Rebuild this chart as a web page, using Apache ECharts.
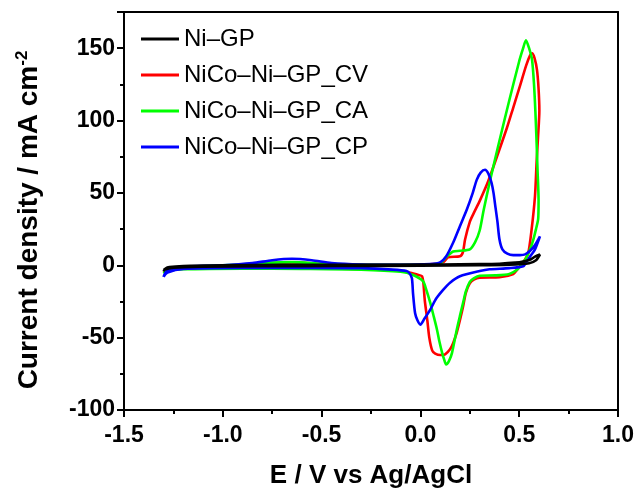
<!DOCTYPE html>
<html>
<head>
<meta charset="utf-8">
<script src="https://cdn.jsdelivr.net/npm/echarts@6/dist/echarts.min.js"></script>
<style>html,body{margin:0;padding:0;background:#fff}#c{width:636px;height:490px}</style>
</head>
<body>
<div id="c"></div>
<script>
// Series names
const seriesNames = ['Ni\u2013GP', 'NiCo\u2013Ni\u2013GP_CV', 'NiCo\u2013Ni\u2013GP_CA', 'NiCo\u2013Ni\u2013GP_CP'];
const seriesColors = ['#000000', '#ff0000', '#00ff00', '#0000ff'];

// tick values
const xTicks = [-1.5, -1.0, -0.5, 0.0, 0.5, 1.0];
const yTicks = [-100, -50, 0, 50, 100, 150];

// [E (V), j (mA cm^-2)] — loop scans
const niGP = [[-1.30,-4.0],[-1.29,-2.2],[-1.27,-1.2],[-1.2,-0.5],[-1.0,0.0],[-0.7,0.3],[-0.4,0.3],[-0.1,0.4],[0.1,0.5],[0.3,0.8],[0.4,1.1],[0.48,1.8],[0.52,2.6],[0.56,4.2],[0.58,6.0],[0.605,7.4],[0.585,3.5],[0.55,1.4],[0.45,0.4],[0.3,0.0],[0.0,-0.3],[-0.4,-0.5],[-0.8,-0.7],[-1.1,-1.0],[-1.25,-1.6],[-1.3,-3.0]];

const niCoCV = [[-1.3,-5],[-1.28,-2.5],[-1.25,-1.5],[-1.1,-0.5],[-0.9,0.3],[-0.75,1.5],[-0.65,2.0],[-0.5,1.0],[-0.3,0.3],[0.0,0.4],[0.08,1],[0.12,2.5],[0.14,5.5],[0.2,6.2],[0.215,9],[0.226,17.8],[0.25,30],[0.27,36],[0.302,45],[0.343,58],[0.4,80],[0.438,95],[0.47,109],[0.504,124],[0.535,138],[0.555,145],[0.565,146.5],[0.578,143],[0.59,135],[0.598,122],[0.602,107],[0.595,88],[0.588,71],[0.58,48],[0.563,25],[0.545,8],[0.52,2],[0.49,-3],[0.47,-6],[0.4,-8.3],[0.3,-8.6],[0.27,-10],[0.25,-12.5],[0.23,-19],[0.216,-28.5],[0.2,-38],[0.184,-46.5],[0.165,-54],[0.15,-58],[0.125,-61.5],[0.1,-62],[0.075,-61],[0.06,-59],[0.045,-50],[0.035,-38],[0.022,-24],[0.015,-12],[0.008,-7.5],[-0.01,-6.7],[-0.05,-5.2],[-0.1,-4],[-0.2,-3],[-0.4,-2.3],[-0.7,-2],[-1.0,-2],[-1.2,-2.3],[-1.28,-3.5],[-1.3,-5]];

const niCoCA = [[-1.3,-5.5],[-1.28,-3],[-1.25,-1.5],[-1.1,-0.5],[-0.9,0.5],[-0.75,1.8],[-0.65,2.2],[-0.5,1.2],[-0.3,0.4],[0.0,0.4],[0.1,1.5],[0.133,6],[0.166,9.5],[0.2,10],[0.25,11],[0.277,16],[0.3,24],[0.32,38],[0.35,57],[0.4,86],[0.45,114],[0.5,141],[0.52,150],[0.534,155.5],[0.55,150],[0.565,142],[0.575,125],[0.582,106],[0.588,85],[0.593,65],[0.598,45],[0.596,32],[0.585,25],[0.57,17],[0.555,11],[0.535,5],[0.52,2],[0.49,-3],[0.45,-6],[0.38,-7],[0.3,-7.2],[0.27,-9],[0.25,-11.5],[0.23,-18],[0.216,-26],[0.2,-35],[0.184,-44.5],[0.16,-60.5],[0.145,-66],[0.13,-68.5],[0.12,-65],[0.11,-60.5],[0.095,-52],[0.084,-44.5],[0.065,-34],[0.05,-26],[0.03,-17],[0.013,-11],[-0.037,-6.7],[-0.1,-4.5],[-0.3,-3],[-0.6,-2.5],[-0.9,-2.3],[-1.2,-2.8],[-1.28,-4],[-1.3,-5.5]];

const niCoCP = [[-1.3,-8],[-1.29,-5],[-1.27,-2.5],[-1.2,-1],[-1.0,0],[-0.85,1.5],[-0.75,3.5],[-0.65,4.5],[-0.55,3.5],[-0.45,1.5],[-0.3,0.5],[-0.1,0.3],[0.05,0.8],[0.1,2],[0.13,6],[0.166,15.7],[0.2,27],[0.235,38.5],[0.265,50],[0.285,59],[0.305,64],[0.327,66],[0.345,63],[0.36,57],[0.37,50],[0.38,40],[0.39,30],[0.4,18],[0.415,11],[0.44,8],[0.47,7],[0.504,7],[0.53,7.5],[0.555,10],[0.58,14],[0.605,20],[0.58,11],[0.555,6],[0.535,2],[0.52,-0.7],[0.45,-2],[0.35,-2.8],[0.3,-4],[0.2,-7.6],[0.15,-12],[0.116,-16.8],[0.08,-23],[0.05,-30.6],[0.02,-37],[0.0,-41],[-0.015,-38],[-0.027,-33],[-0.037,-20],[-0.043,-9],[-0.055,-5.5],[-0.07,-4],[-0.14,-3],[-0.3,-2],[-0.6,-1.8],[-0.9,-1.8],[-1.2,-2.5],[-1.28,-5],[-1.3,-8]];

const seriesData = [niGP, niCoCV, niCoCA, niCoCP];

const xTitle = 'E / V vs Ag/AgCl';
const yTitle = 'Current density / mA cm{sup|-2}';

const chart = echarts.init(document.getElementById('c'), null, {renderer: 'canvas'});
const FONT = 'Liberation Sans, Arial, sans-serif';
const labelFont = {fontFamily: FONT, fontWeight: 'bold', fontSize: 23, color: '#000'};

const drawOrder = [1, 2, 3, 0];
const series = drawOrder.map(i => ({
  name: seriesNames[i],
  type: 'line',
  data: seriesData[i],
  showSymbol: false,
  symbol: 'none',
  smooth: 0.25,
  lineStyle: {color: seriesColors[i], width: 2.6},
  itemStyle: {color: seriesColors[i]},
  animation: false,
  z: 2
}));

const axisLine = {show: true, onZero: false, lineStyle: {color: '#000', width: 2}};
chart.setOption({
  animation: false,
  backgroundColor: '#fff',
  grid: {left: 124, right: 18, top: 12, bottom: 80, outerBoundsMode: 'none'},
  legend: {
    orient: 'vertical', left: 136, top: 22,
    data: seriesNames.map((n, i) => ({name: n, icon: 'rect', itemStyle: {color: seriesColors[i]}})),
    itemWidth: 38, itemHeight: 3, itemGap: 12,
    textStyle: {fontFamily: FONT, fontSize: 24, color: '#000'}
  },
  graphic: [{
    type: 'text', x: 29, y: 220, rotation: Math.PI / 2,
    style: {
      text: yTitle, fontFamily: FONT, fontWeight: 'bold', fontSize: 28, fill: '#000',
      align: 'center', verticalAlign: 'middle',
      rich: {sup: {fontFamily: FONT, fontWeight: 'bold', fontSize: 17, fill: '#000', padding: [0, 0, 14, 0]}}
    }
  }],
  xAxis: [{
    type: 'value', min: xTicks[0], max: xTicks[xTicks.length - 1], interval: 0.5,
    position: 'bottom',
    axisLine: axisLine,
    axisTick: {show: true, inside: false, length: 7, lineStyle: {width: 2, color: '#000'}},
    minorTick: {show: true, splitNumber: 2, length: 4, lineStyle: {width: 2, color: '#000'}},
    splitLine: {show: false},
    axisLabel: Object.assign({margin: 14, formatter: v => v.toFixed(1)}, labelFont),
    name: xTitle, nameLocation: 'middle', nameGap: 53,
    nameTextStyle: {fontFamily: FONT, fontWeight: 'bold', fontSize: 26, color: '#000'}
  }, {
    type: 'value', min: xTicks[0], max: xTicks[xTicks.length - 1], position: 'top',
    axisLine: axisLine, axisTick: {show: false}, axisLabel: {show: false}, splitLine: {show: false}
  }],
  yAxis: [{
    type: 'value', min: yTicks[0], max: 175, interval: 50,
    position: 'left',
    axisLine: axisLine,
    axisTick: {show: true, inside: false, length: 7, lineStyle: {width: 2, color: '#000'}},
    minorTick: {show: true, splitNumber: 2, length: 4, lineStyle: {width: 2, color: '#000'}},
    splitLine: {show: false},
    axisLabel: Object.assign({margin: 9, showMaxLabel: false, formatter: v => (v > 150 ? '' : String(v))}, labelFont)
  }, {
    type: 'value', min: yTicks[0], max: 175, position: 'right',
    axisLine: axisLine, axisTick: {show: false}, axisLabel: {show: false}, splitLine: {show: false}
  }],
  series: series
});
</script>
</body>
</html>
